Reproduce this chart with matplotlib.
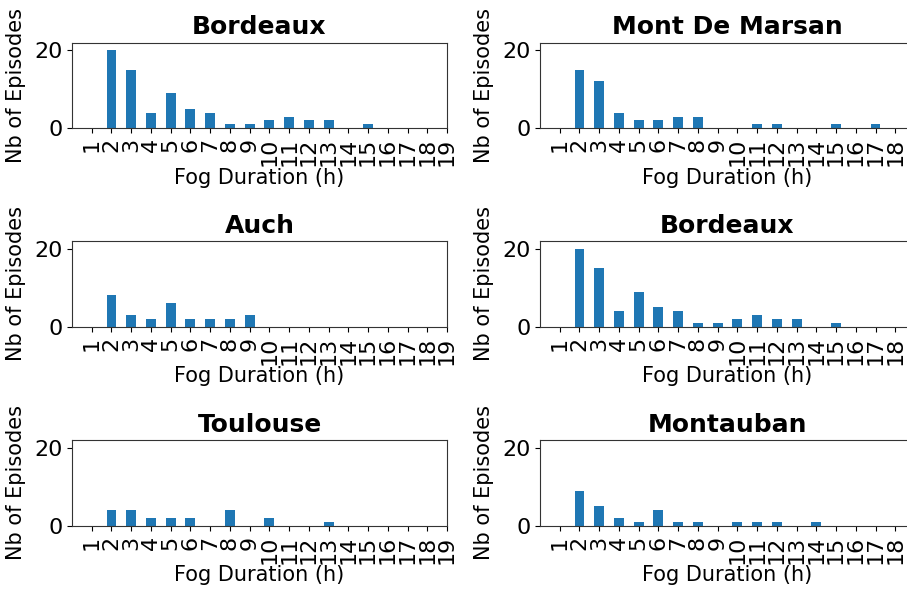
import matplotlib
matplotlib.use("Agg")
import matplotlib.pyplot as plt

# Fog episode counts per duration in hours; the left column spans 1..19 h,
# the right column 1..18 h
hours_left = list(range(1, 20))
hours_right = list(range(1, 19))
bordeaux = [0, 20, 15, 4, 9, 5, 4, 1, 1, 2, 3, 2, 2, 0, 1, 0, 0, 0, 0]
bordeaux_r = [0, 20, 15, 4, 9, 5, 4, 1, 1, 2, 3, 2, 2, 0, 1, 0, 0, 0]
mont_de_marsan = [0, 15, 12, 4, 2, 2, 3, 3, 0, 0, 1, 1, 0, 0, 1, 0, 1, 0]
auch = [0, 8, 3, 2, 6, 2, 2, 2, 3, 0, 0, 0, 0, 0, 0, 0, 0, 0, 0]
toulouse = [0, 4, 4, 2, 2, 2, 0, 4, 0, 2, 0, 0, 1, 0, 0, 0, 0, 0, 0]
montauban = [0, 9, 5, 2, 1, 4, 1, 1, 0, 1, 1, 1, 0, 1, 0, 0, 0, 0]

panels = [("Bordeaux", hours_left, bordeaux),
          ("Mont De Marsan", hours_right, mont_de_marsan),
          ("Auch", hours_left, auch),
          ("Bordeaux", hours_right, bordeaux_r),
          ("Toulouse", hours_left, toulouse),
          ("Montauban", hours_right, montauban)]

W, H = 907, 591
fig = plt.figure(figsize=(W / 100, H / 100), dpi=100)
lefts = [72, 540]
bottoms = [128.3, 326.7, 525.7]
aw, ah = 375, 85.6

for i, (name, hours, counts) in enumerate(panels):
    r, c = divmod(i, 2)
    ax = fig.add_axes([lefts[c] / W, 1 - bottoms[r] / H, aw / W, ah / H])
    ax.bar(hours, counts, width=0.5, color="#1f77b4")
    ax.set_xlim(0, 19)
    ax.set_ylim(0, 21.9)
    ax.set_xticks(hours)
    ax.set_xticklabels([str(h) for h in hours], rotation=90, fontsize=16)
    ax.set_yticks([0, 20])
    ax.tick_params(axis="y", labelsize=16)
    ax.set_title(name, fontsize=18, fontweight="bold")
    ax.set_xlabel("Fog Duration (h)", fontsize=15, labelpad=1)
    ax.set_ylabel("Nb of Episodes", fontsize=15, labelpad=6)
    for s in ax.spines.values():
        s.set_edgecolor("#333333")

fig.savefig("out.png", dpi=100)
